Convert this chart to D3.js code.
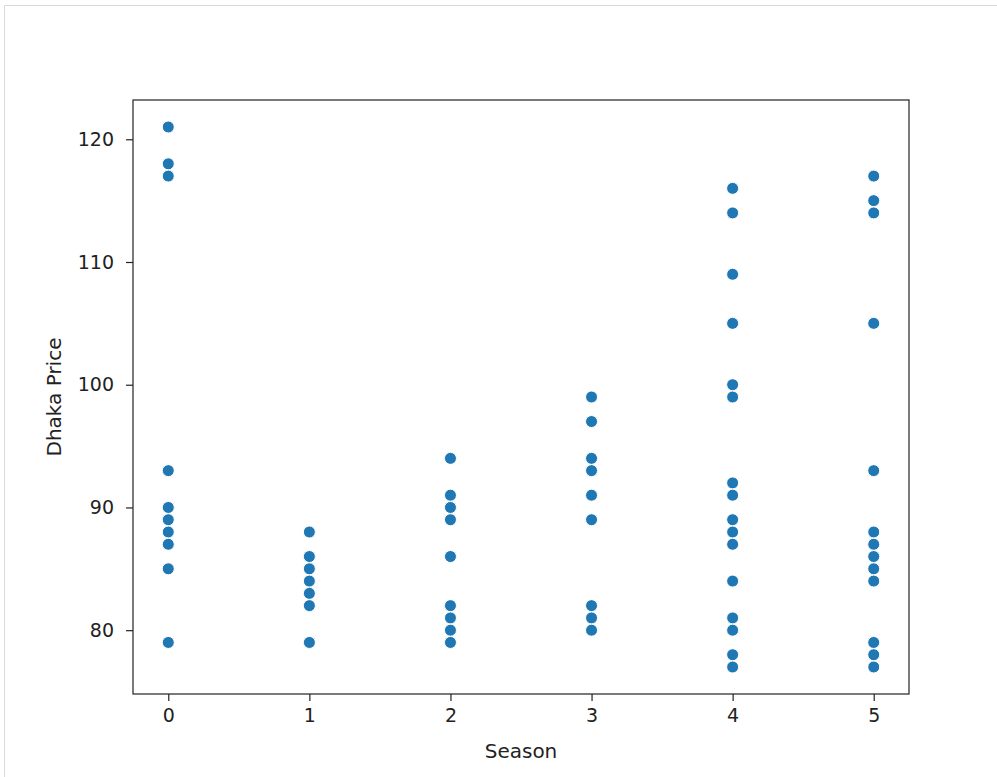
<!DOCTYPE html>
<html>
<head>
<meta charset="utf-8">
<script src="https://cdn.jsdelivr.net/npm/d3@7"></script>
<style>
  body { margin: 0; background: #fff; }
  svg text { font-family: "DejaVu Sans", sans-serif; fill: #222; }
</style>
</head>
<body>
<div id="chart"></div>
<script>
// Season -> Dhaka Price readings, one list per season
const seasons = [0, 1, 2, 3, 4, 5];
const price0 = [121, 118, 117, 93, 90, 89, 88, 87, 85, 79];
const price1 = [88, 86, 85, 84, 83, 82, 79];
const price2 = [94, 91, 90, 89, 86, 82, 81, 80, 79];
const price3 = [99, 97, 94, 93, 91, 89, 82, 81, 80];
const price4 = [116, 114, 109, 105, 100, 99, 92, 91, 89, 88, 87, 84, 81, 80, 78, 77];
const price5 = [117, 115, 114, 105, 93, 88, 87, 86, 85, 84, 79, 78, 77];
const yTicks = [80, 90, 100, 110, 120];

const width = 997, height = 777;
const margin = {top: 100, right: 88, bottom: 83, left: 133};

const svg = d3.select("#chart")
  .append("svg")
  .attr("width", width)
  .attr("height", height);

// notebook cell frame
svg.append("path")
  .attr("d", `M4.5,${height} V5.5 H${width}`)
  .attr("fill", "none")
  .attr("stroke", "#d9d9d9")
  .attr("stroke-width", 1);

const allPrices = [price0, price1, price2, price3, price4, price5];
const data = [];
seasons.forEach((s, i) => {
  allPrices[i].forEach(p => data.push({season: s, price: p}));
});

// matplotlib style 5% padding around the data
const yMin = d3.min(data, d => d.price), yMax = d3.max(data, d => d.price);
const yPad = (yMax - yMin) * 0.05;
const xPad = (d3.max(seasons) - d3.min(seasons)) * 0.05;

const xScale = d3.scaleLinear()
  .domain([d3.min(seasons) - xPad, d3.max(seasons) + xPad])
  .range([margin.left, width - margin.right]);

const yScale = d3.scaleLinear()
  .domain([yMin - yPad, yMax + yPad])
  .range([height - margin.bottom, margin.top]);

// x axis
const xAxis = svg.append("g")
  .attr("transform", `translate(0,${height - margin.bottom})`)
  .call(d3.axisBottom(xScale).tickValues(seasons).tickFormat(d3.format("d"))
    .tickSize(7).tickPadding(8));
xAxis.select(".domain").remove();
xAxis.selectAll("line").attr("stroke", "#222").attr("stroke-width", 1.2);
xAxis.selectAll("text").attr("font-size", "19px").attr("fill", "#222");

// y axis
const yAxis = svg.append("g")
  .attr("transform", `translate(${margin.left},0)`)
  .call(d3.axisLeft(yScale).tickValues(yTicks).tickSize(7).tickPadding(12));
yAxis.select(".domain").remove();
yAxis.selectAll("line").attr("stroke", "#222").attr("stroke-width", 1.2);
yAxis.selectAll("text").attr("font-size", "19px").attr("fill", "#222");

// points
svg.selectAll("circle")
  .data(data)
  .enter()
  .append("circle")
    .attr("cx", d => xScale(d.season))
    .attr("cy", d => yScale(d.price))
    .attr("r", 6)
    .attr("fill", "#1f77b4")
    .attr("stroke", "#fff")
    .attr("stroke-width", 1);

// frame around the axes
svg.append("rect")
  .attr("x", margin.left)
  .attr("y", margin.top)
  .attr("width", width - margin.left - margin.right)
  .attr("height", height - margin.top - margin.bottom)
  .attr("fill", "none")
  .attr("stroke", "#222")
  .attr("stroke-width", 1.2);

// axis labels
svg.append("text")
  .attr("x", (margin.left + width - margin.right) / 2)
  .attr("y", 758)
  .attr("text-anchor", "middle")
  .attr("font-size", "20px")
  .text("Season");

svg.append("text")
  .attr("transform", `translate(61,${(margin.top + height - margin.bottom) / 2}) rotate(-90)`)
  .attr("text-anchor", "middle")
  .attr("font-size", "20px")
  .text("Dhaka Price");
</script>
</body>
</html>
